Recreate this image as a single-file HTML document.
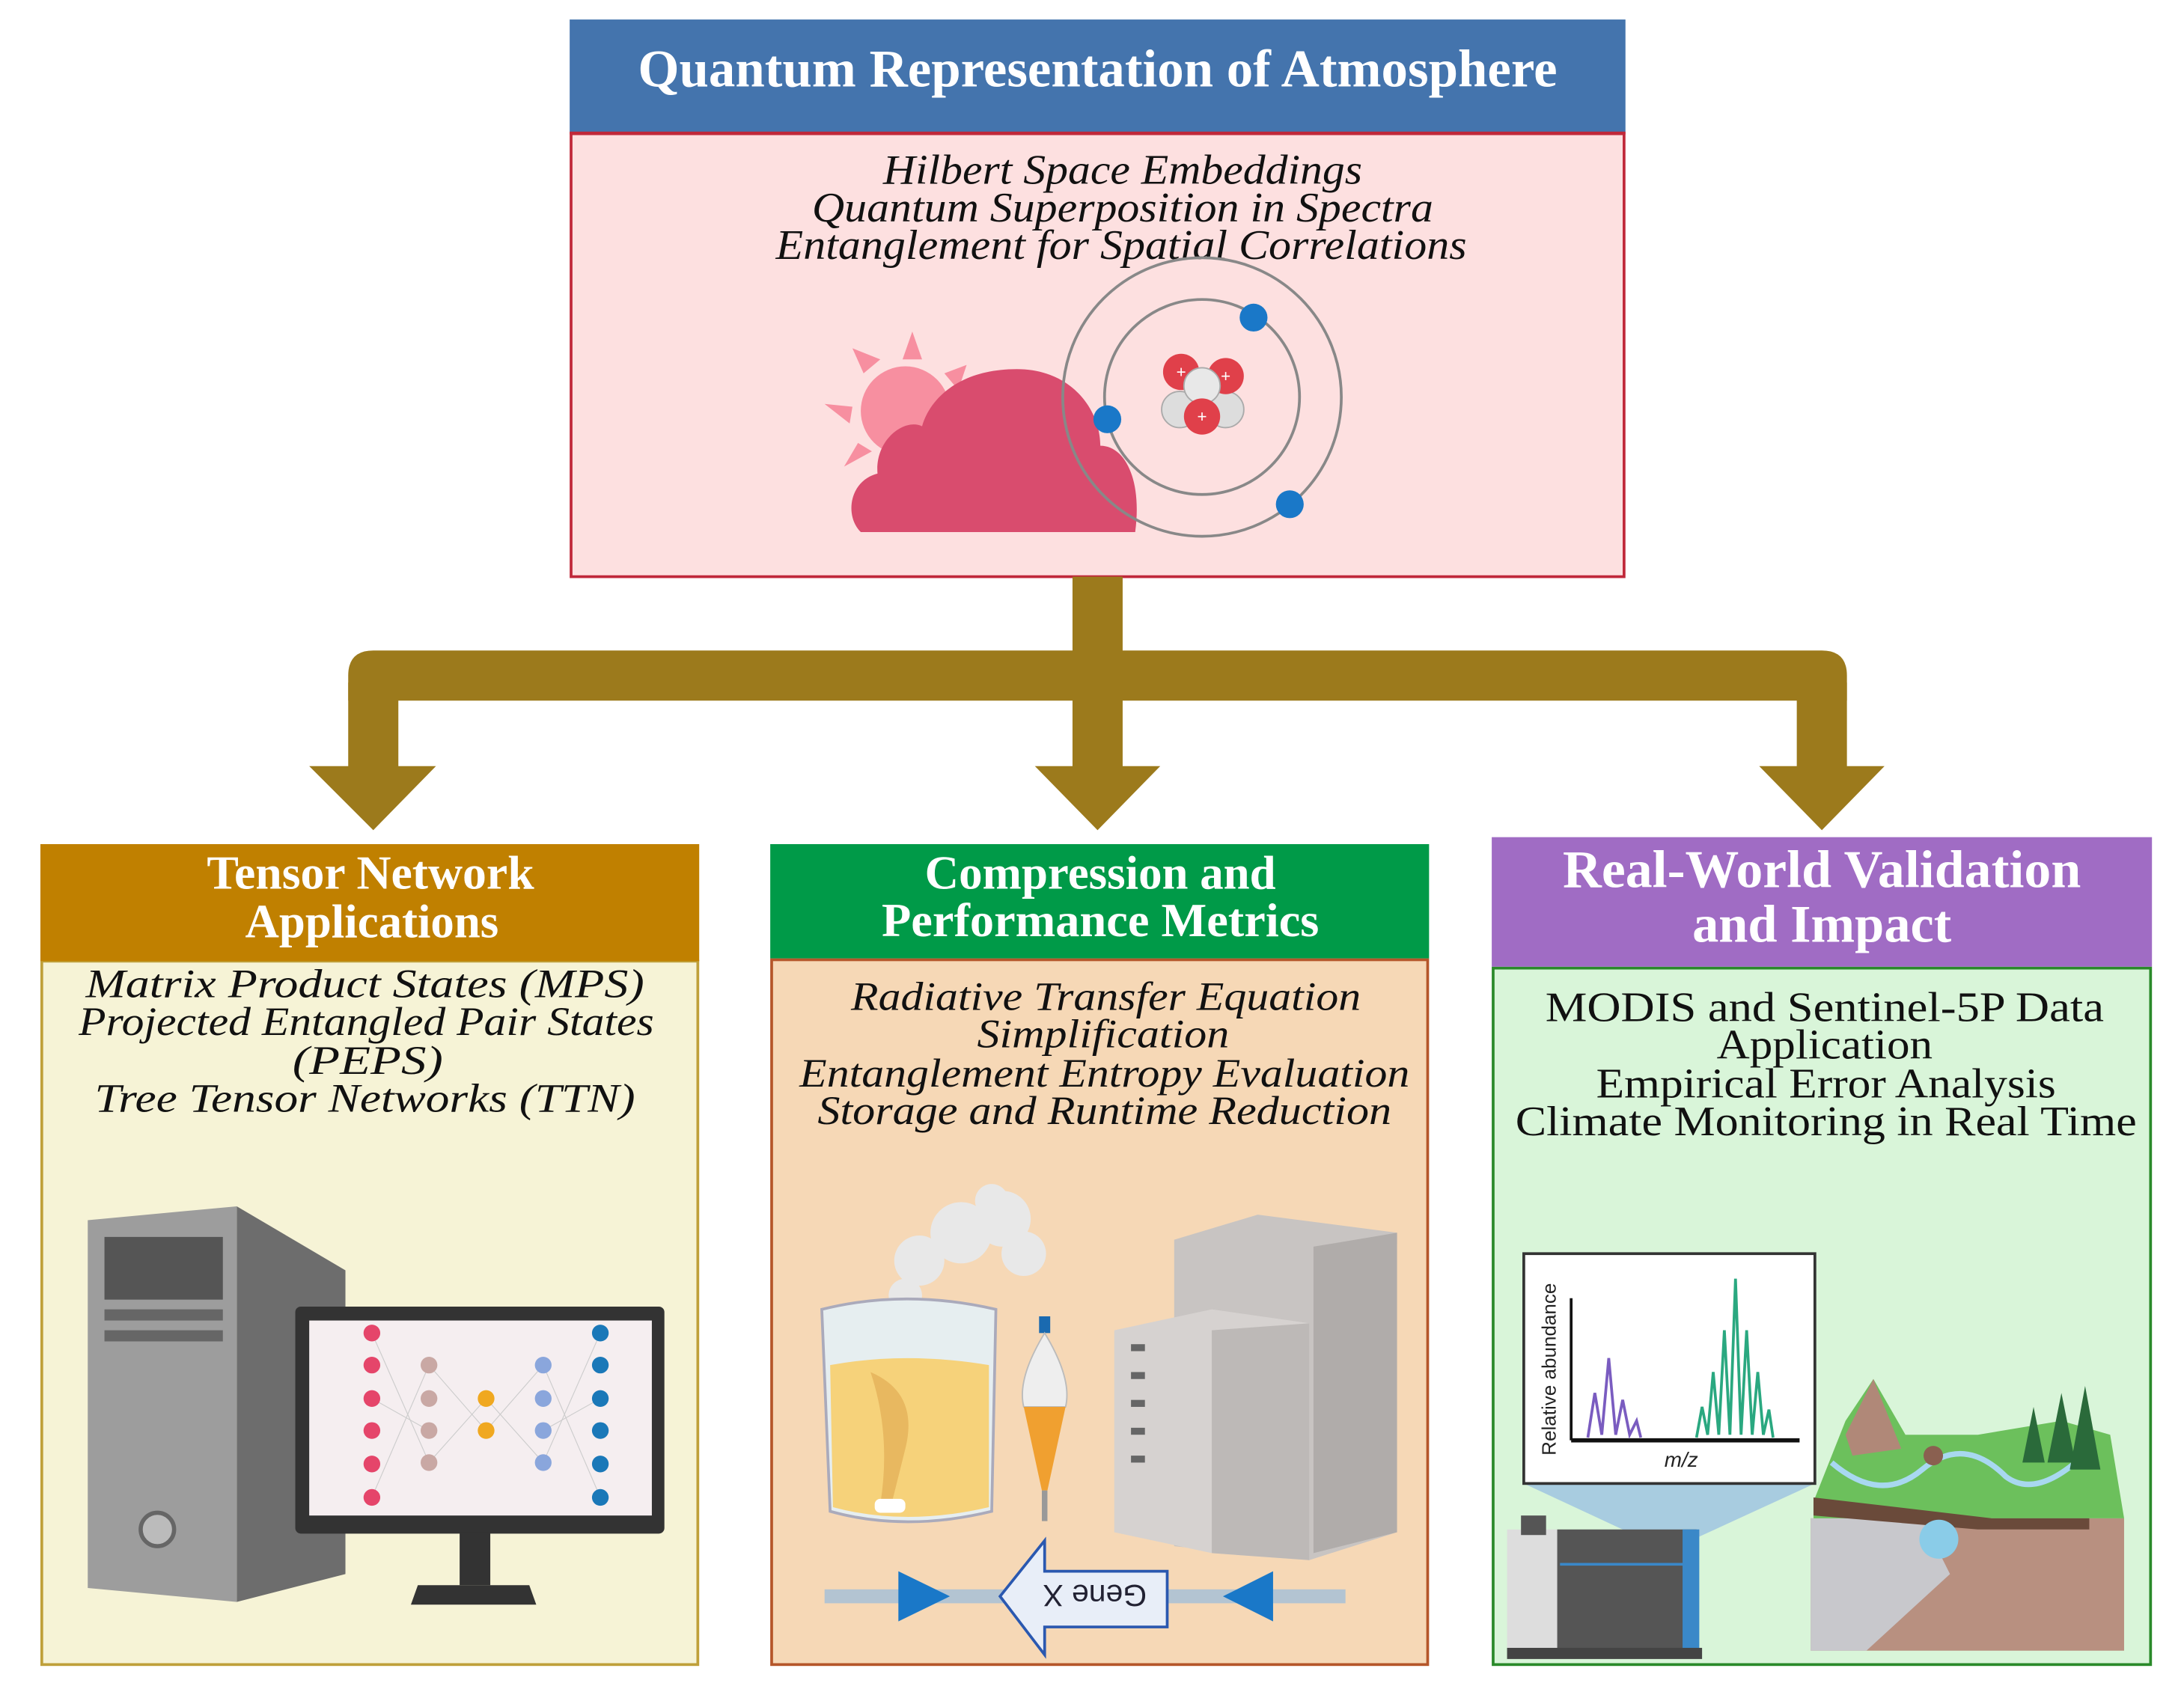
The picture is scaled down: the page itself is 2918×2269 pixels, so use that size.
<!DOCTYPE html>
<html><head><meta charset="utf-8"><style>
html,body{margin:0;padding:0;background:#fff;}
svg{display:block;}
.t{font-family:"Liberation Serif",serif;}
</style></head><body>
<svg width="2918" height="2269" viewBox="0 0 1568 1219" preserveAspectRatio="none" xmlns="http://www.w3.org/2000/svg" class="t">
<!-- Top box -->
<rect x="410" y="96" width="756" height="318" fill="#fde0e0" stroke="#c0283a" stroke-width="2"/>
<rect x="409" y="14" width="758" height="81" fill="#4474ad"/>
<line x1="409" y1="95.5" x2="1167" y2="95.5" stroke="#c0283a" stroke-width="2"/>
<text x="788" y="62" font-size="38" font-weight="bold" fill="#fff" text-anchor="middle" textLength="660" lengthAdjust="spacingAndGlyphs">Quantum Representation of Atmosphere</text>
<g font-style="italic" font-size="30" fill="#111" text-anchor="middle">
<text x="806" y="132" textLength="344" lengthAdjust="spacingAndGlyphs">Hilbert Space Embeddings</text>
<text x="806" y="159" textLength="446" lengthAdjust="spacingAndGlyphs">Quantum Superposition in Spectra</text>
<text x="805" y="186" textLength="496" lengthAdjust="spacingAndGlyphs">Entanglement for Spatial Correlations</text>
</g>
<!-- sun -->
<g fill="#f78fa0">
<circle cx="650" cy="295" r="32"/>
<polygon points="648,258 655,238 662,258"/>
<polygon points="620,268 612,250 632,258"/>
<polygon points="678,268 694,262 688,280"/>
<polygon points="612,292 592,290 610,304"/>
<polygon points="616,318 606,335 626,324"/>
</g>
<!-- cloud -->
<path d="M618,382 C606,370 610,345 630,340 C628,315 650,300 662,306 C668,285 690,265 730,265 C770,265 790,295 790,320 C808,320 820,345 815,382 Z" fill="#d94c6e"/>
<!-- atom -->
<ellipse cx="863" cy="285" rx="100" ry="100" fill="none" stroke="#888" stroke-width="2"/>
<ellipse cx="863" cy="285" rx="70" ry="70" fill="none" stroke="#888" stroke-width="2"/>
<circle cx="900" cy="228" r="10" fill="#1a78c8"/><circle cx="795" cy="301" r="10" fill="#1a78c8"/><circle cx="926" cy="362" r="10" fill="#1a78c8"/>
<circle cx="847" cy="294" r="13" fill="#ddd" stroke="#aaa"/><circle cx="880" cy="294" r="13" fill="#ddd" stroke="#aaa"/>
<circle cx="848" cy="267" r="13" fill="#e0404a"/><circle cx="880" cy="270" r="13" fill="#e0404a"/>
<circle cx="863" cy="277" r="13" fill="#e8e8e8" stroke="#aaa"/>
<circle cx="863" cy="299" r="13" fill="#e0404a"/>
<g fill="#fff" font-size="12" font-family="Liberation Sans,sans-serif" text-anchor="middle"><text x="848" y="271">+</text><text x="880" y="274">+</text><text x="863" y="303">+</text></g>
<!-- connectors -->
<g fill="#9c7a1c">
<rect x="770" y="414" width="36" height="60"/>
<path d="M250,503 L250,485 Q250,467 268,467 L1308,467 Q1326,467 1326,485 L1326,503 Z"/>
<rect x="250" y="490" width="36" height="62"/>
<rect x="770" y="490" width="36" height="62"/>
<rect x="1290" y="490" width="36" height="62"/>
<polygon points="222,550 313,550 268,596"/>
<polygon points="743,550 833,550 788,596"/>
<polygon points="1263,550 1353,550 1308,596"/>
</g>
<!-- Left panel -->
<rect x="30" y="690" width="471" height="505" fill="#f6f3d6" stroke="#bfa03a" stroke-width="2"/>
<rect x="29" y="606" width="473" height="84" fill="#c08000"/>
<g font-weight="bold" fill="#fff" text-anchor="middle" font-size="34">
<text x="266" y="638" textLength="235" lengthAdjust="spacingAndGlyphs">Tensor Network</text>
<text x="267" y="673" textLength="182" lengthAdjust="spacingAndGlyphs">Applications</text>
</g>
<g font-style="italic" font-size="29" fill="#111" text-anchor="middle">
<text x="262" y="716" textLength="401" lengthAdjust="spacingAndGlyphs">Matrix Product States (MPS)</text>
<text x="263" y="743" textLength="413" lengthAdjust="spacingAndGlyphs">Projected Entangled Pair States</text>
<text x="264" y="771" textLength="108" lengthAdjust="spacingAndGlyphs">(PEPS)</text>
<text x="262" y="798" textLength="388" lengthAdjust="spacingAndGlyphs">Tree Tensor Networks (TTN)</text>
</g>
<!-- computer -->
<polygon points="170,866 248,912 248,1130 170,1150" fill="#6d6d6d"/>
<polygon points="63,876 170,866 170,1150 63,1140" fill="#9d9d9d"/>
<rect x="75" y="888" width="85" height="45" fill="#555"/>
<rect x="75" y="940" width="85" height="8" fill="#666"/>
<rect x="75" y="955" width="85" height="8" fill="#666"/>
<circle cx="113" cy="1098" r="12" fill="#bbb" stroke="#666" stroke-width="3"/>
<rect x="212" y="938" width="265" height="163" rx="4" fill="#333"/>
<rect x="222" y="948" width="246" height="140" fill="#f5eef0"/>
<rect x="330" y="1100" width="22" height="38" fill="#333"/>
<polygon points="300,1138 380,1138 385,1152 295,1152" fill="#333"/>
<g stroke="#ccc" stroke-width="0.6">
<line x1="267" y1="957" x2="308" y2="1050"/><line x1="267" y1="1075" x2="308" y2="980"/><line x1="267" y1="1004" x2="308" y2="1027"/>
<line x1="308" y1="980" x2="349" y2="1027"/><line x1="308" y1="1050" x2="349" y2="1004"/>
<line x1="390" y1="980" x2="349" y2="1027"/><line x1="390" y1="1050" x2="349" y2="1004"/>
<line x1="431" y1="957" x2="390" y2="1050"/><line x1="431" y1="1075" x2="390" y2="980"/><line x1="431" y1="1004" x2="390" y2="1027"/>
</g>
<g fill="#e5456a"><circle cx="267" cy="957" r="6"/><circle cx="267" cy="980" r="6"/><circle cx="267" cy="1004" r="6"/><circle cx="267" cy="1027" r="6"/><circle cx="267" cy="1051" r="6"/><circle cx="267" cy="1075" r="6"/></g>
<g fill="#c9a8a4"><circle cx="308" cy="980" r="6"/><circle cx="308" cy="1004" r="6"/><circle cx="308" cy="1027" r="6"/><circle cx="308" cy="1050" r="6"/></g>
<g fill="#f0a820"><circle cx="349" cy="1004" r="6"/><circle cx="349" cy="1027" r="6"/></g>
<g fill="#8aa6dc"><circle cx="390" cy="980" r="6"/><circle cx="390" cy="1004" r="6"/><circle cx="390" cy="1027" r="6"/><circle cx="390" cy="1050" r="6"/></g>
<g fill="#1a78b8"><circle cx="431" cy="957" r="6"/><circle cx="431" cy="980" r="6"/><circle cx="431" cy="1004" r="6"/><circle cx="431" cy="1027" r="6"/><circle cx="431" cy="1051" r="6"/><circle cx="431" cy="1075" r="6"/></g>
<!-- Middle panel -->
<rect x="554" y="689" width="471" height="506" fill="#f6d8b6" stroke="#b5562a" stroke-width="2"/>
<rect x="553" y="606" width="473" height="82" fill="#009a48"/>
<g font-weight="bold" fill="#fff" text-anchor="middle" font-size="34">
<text x="790" y="638" textLength="252" lengthAdjust="spacingAndGlyphs">Compression and</text>
<text x="790" y="672" textLength="314" lengthAdjust="spacingAndGlyphs">Performance Metrics</text>
</g>
<g font-style="italic" font-size="29" fill="#111" text-anchor="middle">
<text x="794" y="725" textLength="366" lengthAdjust="spacingAndGlyphs">Radiative Transfer Equation</text>
<text x="792" y="752" textLength="181" lengthAdjust="spacingAndGlyphs">Simplification</text>
<text x="793" y="780" textLength="438" lengthAdjust="spacingAndGlyphs">Entanglement Entropy Evaluation</text>
<text x="793" y="807" textLength="412" lengthAdjust="spacingAndGlyphs">Storage and Runtime Reduction</text>
</g>
<!-- smoke -->
<g fill="#e8e8e8"><circle cx="660" cy="905" r="18"/><circle cx="690" cy="885" r="22"/><circle cx="720" cy="875" r="20"/><circle cx="735" cy="900" r="16"/><circle cx="650" cy="930" r="12"/><circle cx="712" cy="862" r="12"/></g>
<!-- beaker -->
<path d="M590,940 Q650,925 715,940 L712,1085 Q650,1100 596,1085 Z" fill="#e6eef0" stroke="#aab" stroke-width="2"/>
<path d="M596,980 Q650,970 710,980 L710,1082 Q650,1096 598,1082 Z" fill="#f6d27a"/>
<path d="M625,985 Q660,1000 650,1040 L640,1080 L632,1080 Q640,1030 625,985 Z" fill="#e8b860"/>
<rect x="628" y="1076" width="22" height="10" rx="4" fill="#fff"/>
<!-- funnel -->
<rect x="746" y="945" width="8" height="12" fill="#1a6ab0"/>
<path d="M750,957 Q730,990 735,1010 L765,1010 Q770,990 750,957 Z" fill="#eee" stroke="#bbb"/>
<path d="M735,1010 L765,1010 L752,1070 L748,1070 Z" fill="#f0a030"/>
<rect x="748" y="1070" width="4" height="22" fill="#999"/>
<!-- equipment -->
<polygon points="843,890 903,872 1003,885 1003,1100 940,1120 843,1110" fill="#c8c4c2"/>
<polygon points="800,955 870,940 940,950 940,1120 870,1115 800,1100" fill="#d6d2d0"/>
<polygon points="870,955 940,950 940,1120 870,1115" fill="#bdb9b7"/>
<polygon points="943,895 1003,885 1003,1100 943,1115" fill="#b0acaa"/>
<g fill="#666"><rect x="812" y="965" width="10" height="5"/><rect x="812" y="985" width="10" height="5"/><rect x="812" y="1005" width="10" height="5"/><rect x="812" y="1025" width="10" height="5"/><rect x="812" y="1045" width="10" height="5"/></g>
<!-- gene X -->
<rect x="592" y="1141" width="374" height="10" fill="#b3c4d2"/>
<polygon points="645,1128 682,1146 645,1164" fill="#1a78c8"/>
<polygon points="914,1128 878,1146 914,1164" fill="#1a78c8"/>
<polygon points="838,1128 838,1168 750,1168 750,1188 718,1146 750,1106 750,1128" fill="#e8eef8" stroke="#2a58b0" stroke-width="2"/>
<text x="0" y="0" font-family="Liberation Sans,sans-serif" font-size="22" fill="#223" text-anchor="middle" transform="translate(786,1138) rotate(180)">Gene X</text>
<!-- Right panel -->
<rect x="1072" y="695" width="472" height="500" fill="#d9f5d9" stroke="#2a8a2a" stroke-width="2"/>
<rect x="1071" y="601" width="474" height="93" fill="#a06cc4"/>
<g font-weight="bold" fill="#fff" text-anchor="middle" font-size="38">
<text x="1308" y="637" textLength="372" lengthAdjust="spacingAndGlyphs">Real-World Validation</text>
<text x="1308" y="676" textLength="186" lengthAdjust="spacingAndGlyphs">and Impact</text>
</g>
<g font-size="30" fill="#111" text-anchor="middle">
<text x="1310" y="733" textLength="401" lengthAdjust="spacingAndGlyphs">MODIS and Sentinel-5P Data</text>
<text x="1310" y="760" textLength="155" lengthAdjust="spacingAndGlyphs">Application</text>
<text x="1311" y="788" textLength="330" lengthAdjust="spacingAndGlyphs">Empirical Error Analysis</text>
<text x="1311" y="815" textLength="446" lengthAdjust="spacingAndGlyphs">Climate Monitoring in Real Time</text>
</g>
<!-- instrument -->
<polygon points="1094,1065 1303,1065 1216,1105 1180,1105" fill="#a8cce0"/>
<rect x="1082" y="1098" width="40" height="85" fill="#ddd"/>
<rect x="1092" y="1088" width="18" height="14" fill="#555"/>
<rect x="1118" y="1098" width="100" height="88" fill="#555"/>
<rect x="1208" y="1098" width="12" height="88" fill="#3a88c8"/>
<line x1="1120" y1="1123" x2="1210" y2="1123" stroke="#3a88c8" stroke-width="2"/>
<rect x="1082" y="1183" width="140" height="8" fill="#444"/>
<!-- graph -->
<rect x="1094" y="900" width="209" height="165" fill="#fff" stroke="#333" stroke-width="2"/>
<line x1="1128" y1="932" x2="1128" y2="1034" stroke="#111" stroke-width="2"/>
<line x1="1128" y1="1034" x2="1292" y2="1034" stroke="#111" stroke-width="3"/>
<path d="M1140,1032 L1145,1000 L1150,1030 L1155,975 L1160,1030 L1165,1005 L1170,1030 L1175,1020 L1178,1032" fill="none" stroke="#7a5cc0" stroke-width="2"/>
<path d="M1218,1032 L1222,1010 L1226,1030 L1230,985 L1234,1030 L1238,955 L1242,1030 L1246,918 L1250,1030 L1254,955 L1258,1030 L1262,985 L1266,1030 L1270,1012 L1273,1032" fill="none" stroke="#2aa880" stroke-width="2"/>
<text font-family="Liberation Sans,sans-serif" font-size="14" fill="#222" text-anchor="middle" transform="translate(1117,983) rotate(-90)">Relative abundance</text>
<text x="1207" y="1053" font-family="Liberation Sans,sans-serif" font-style="italic" font-size="15" fill="#222" text-anchor="middle">m/z</text>
<!-- landscape -->
<polygon points="1300,1090 1525,1090 1525,1185 1300,1185" fill="#b89080"/>
<polygon points="1300,1090 1380,1090 1400,1130 1340,1185 1300,1185" fill="#c8c8cc"/>
<polygon points="1302,1078 1325,1020 1345,990 1368,1030 1420,1030 1480,1020 1515,1030 1525,1090 1302,1090" fill="#6cc05c"/>
<polygon points="1325,1030 1345,990 1365,1040 1330,1045" fill="#b08878"/>
<polygon points="1302,1075 1430,1090 1500,1090 1500,1098 1420,1098 1302,1088" fill="#6a4a3a"/>
<path d="M1315,1050 Q1350,1080 1380,1055 Q1410,1030 1440,1060 Q1460,1075 1490,1050" fill="none" stroke="#a8d8f0" stroke-width="4"/>
<circle cx="1388" cy="1045" r="7" fill="#8a6050"/>
<circle cx="1392" cy="1105" r="14" fill="#8acce8"/>
<g fill="#2a6a3a"><polygon points="1480,1000 1470,1050 1490,1050"/><polygon points="1497,995 1486,1055 1508,1055"/><polygon points="1460,1010 1452,1050 1468,1050"/></g>
</svg>
</body></html>
